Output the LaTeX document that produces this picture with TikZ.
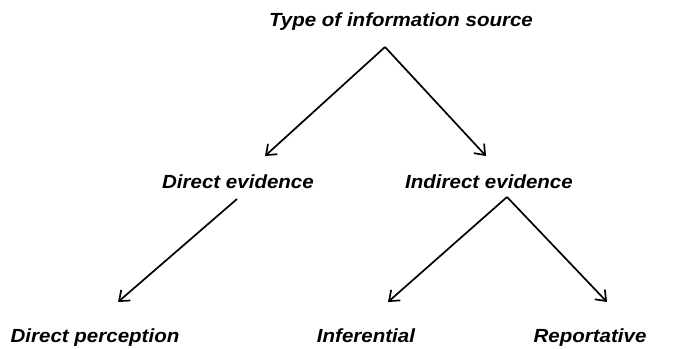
\documentclass[tikz,border=0pt]{standalone}
\usepackage{fontspec}
\setmainfont{Liberation Sans}
\newfontfamily\lblfont[FakeStretch=1.08]{Liberation Sans}
\usetikzlibrary{arrows.meta}
\begin{document}
\begin{tikzpicture}[x=1pt,y=-1pt,
  lbl/.style={font=\lblfont\fontsize{19}{21}\selectfont\bfseries\itshape, inner sep=0pt, anchor=base},
  arr/.style={line width=1.7pt, -{Straight Barb[length=9pt,width=14pt,line width=1.7pt]}}]
\useasboundingbox (0,0) rectangle (682,348);
\node[lbl] (top) at (401,27) {Type of information source};
\node[lbl] (de) at (238,188) {Direct evidence};
\node[lbl] (ie) at (489,188) {Indirect evidence};
\node[lbl] (dp) at (95,342) {Direct perception};
\node[lbl] (inf) at (366,342) {Inferential};
\node[lbl] (rep) at (590,342) {Reportative};
\coordinate (a0) at (385,47);
\coordinate (a1) at (265,156);
\coordinate (a2) at (486,156);
\coordinate (b0) at (237,199);
\coordinate (b1) at (118,302);
\coordinate (c0) at (507,197);
\coordinate (c1) at (388,302);
\coordinate (c2) at (607,302);
\draw[arr] (a0) -- (a1);
\draw[arr] (a0) -- (a2);
\draw[arr] (b0) -- (b1);
\draw[arr] (c0) -- (c1);
\draw[arr] (c0) -- (c2);
\end{tikzpicture}
\end{document}
